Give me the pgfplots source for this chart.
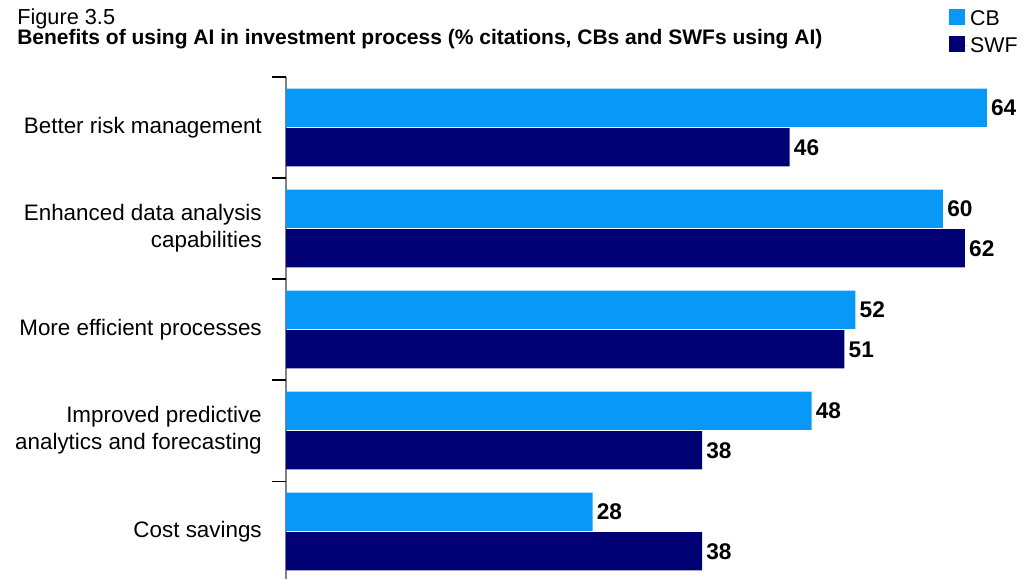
\documentclass[border=0pt]{standalone}
\usepackage{pgfplots}
\pgfplotsset{compat=1.18}
\usepackage{fontspec}
\setmainfont{Liberation Sans}
\definecolor{cbblue}{RGB}{8,153,248}
\definecolor{swfnavy}{RGB}{0,0,117}
\definecolor{axisgrey}{RGB}{130,130,130}
\begin{document}
\begin{tikzpicture}
\useasboundingbox (0pt,0pt) rectangle (777pt,-434.25pt);
\node[anchor=base west, inner sep=0pt, font=\fontsize{16.3}{18}\selectfont] at (12.75pt,-18pt) {Figure 3.5};
\node[anchor=base west, inner sep=0pt, font=\fontsize{15.75}{18}\selectfont\bfseries] at (12.75pt,-33pt) {Benefits of using AI in investment process (\% citations, CBs and SWFs using AI)};
\begin{axis}[
  at={(214.5pt,-57.75pt)}, anchor=north west,
  scale only axis, width=559.5pt, height=376.5pt,
  xbar, xmin=0, xmax=68.13,
  ymin=-0.5, ymax=4.47, y dir=reverse,
  axis x line=none,
  axis y line*=left,
  y axis line style={draw=axisgrey, line width=1pt},
  ytick={0,1,2,3,4},
  yticklabels={Better risk management, {Enhanced data analysis\\capabilities}, More efficient processes, {Improved predictive\\analytics and forecasting}, Cost savings},
  yticklabel style={align=right, inner sep=0pt, xshift=-18pt, font=\fontsize{16.8}{20.5}\selectfont},
  major tick length=0pt,
  extra y ticks={-0.5,0.5,1.5,2.5,3.5},
  extra y tick labels={},
  extra y tick style={major tick length=10.5pt, tick align=outside, ytick pos=left, tick style={black, line width=0.8pt}},
  clip=false,
  bar width=28.7pt,
  /pgf/number format/assume math mode=true,
  nodes near coords,
  nodes near coords style={font=\fontsize{17}{18}\selectfont\bfseries, black, anchor=west, inner sep=3pt},
  legend style={at={(axis description cs:0.889,1.137)}, anchor=north west, draw=none, fill=none, inner sep=0pt, row sep=4.5pt, nodes={inner sep=1.5pt}, font=\fontsize{16}{18}\selectfont, legend cell align=left},
]
\addplot[draw=none, fill=cbblue, bar shift=14.85pt, legend image code/.code={\fill[cbblue] (0pt,-4.25pt) rectangle (12pt,7.75pt); \path (0pt,0pt) -- (14pt,0pt);}] coordinates {(64,0) (60,1) (52,2) (48,3) (28,4)};
\addlegendentry{CB}
\addplot[draw=none, fill=swfnavy, bar shift=-14.85pt, legend image code/.code={\fill[swfnavy] (0pt,-4.25pt) rectangle (12pt,7.75pt); \path (0pt,0pt) -- (14pt,0pt);}] coordinates {(46,0) (62,1) (51,2) (38,3) (38,4)};
\addlegendentry{SWF}
\end{axis}
\end{tikzpicture}
\end{document}
